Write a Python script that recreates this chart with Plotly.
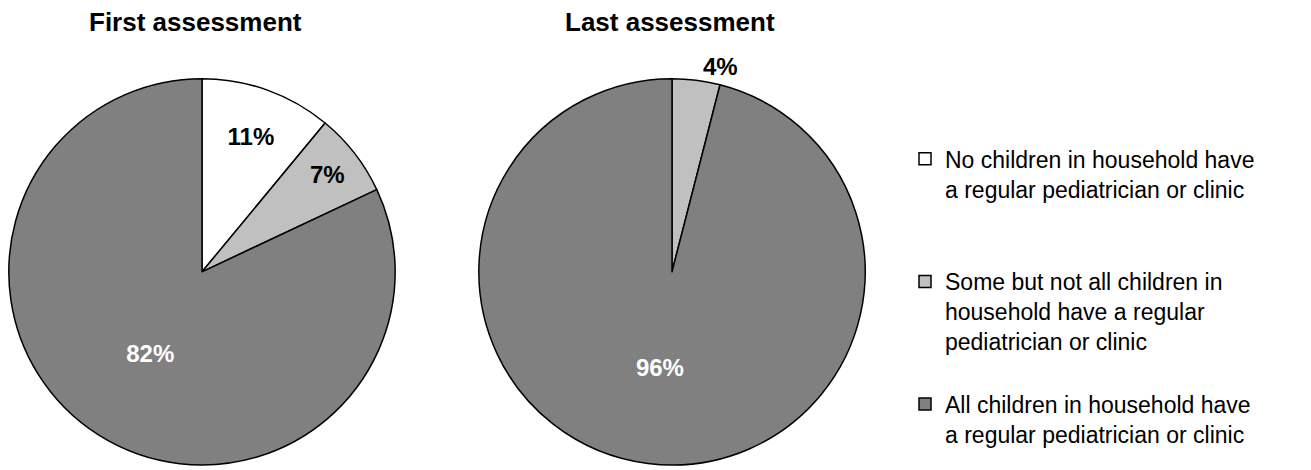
import plotly.graph_objects as go

categories = [
    "No children in household have<br>a regular pediatrician or clinic",
    "Some but not all children in<br>household have a regular<br>pediatrician or clinic",
    "All children in household have<br>a regular pediatrician or clinic",
]
legend_labels = [
    categories[0] + "<br> <br> ",
    categories[1] + "<br> ",
    categories[2],
]
first_values = [11, 7, 82]
last_values = [0, 4, 96]
titles = ["First assessment", "Last assessment"]
colors = ["#FFFFFF", "#C0C0C0", "#808080"]
FONT = "Liberation Sans, Arial, sans-serif"

W, H = 1311, 470

def dom(cx, cy, r):
    return dict(x=[(cx - r) / W, (cx + r) / W], y=[1 - (cy + r) / H, 1 - (cy - r) / H])

fig = go.Figure()
fig.add_trace(go.Pie(
    labels=legend_labels, values=first_values, sort=False, direction="clockwise", rotation=0,
    marker=dict(colors=colors, line=dict(color="black", width=1.5)),
    texttemplate="%{value}%", textposition="inside", insidetextorientation="horizontal",
    textfont=dict(family=FONT, size=24, color=["black", "black", "white"], weight="bold"),
    domain=dom(202, 273, 194), hoverinfo="label+value", showlegend=True,
))
fig.add_trace(go.Pie(
    labels=legend_labels, values=last_values, sort=False, direction="clockwise", rotation=0,
    marker=dict(colors=colors, line=dict(color="black", width=1.5)),
    texttemplate=["", "%{value}%", "%{value}%"], textposition=["none", "outside", "inside"],
    insidetextorientation="horizontal",
    textfont=dict(family=FONT, size=24, color=["black", "black", "white"], weight="bold"),
    domain=dom(672, 273, 194), hoverinfo="label+value", showlegend=False,
))

for i, t in enumerate(titles):
    fig.add_annotation(text="<b>" + t + "</b>", x=[195, 670][i] / W, y=1 - 22 / H,
                       xref="paper", yref="paper", showarrow=False,
                       font=dict(family=FONT, size=26, color="black"), xanchor="center", yanchor="middle")

fig.update_layout(
    width=W, height=H, margin=dict(l=0, r=0, t=0, b=0),
    paper_bgcolor="white", plot_bgcolor="white",
    font=dict(family=FONT, color="black"),
    legend=dict(x=905 / W, y=1 - 138 / H, xanchor="left", yanchor="top", valign="top",
                font=dict(family=FONT, size=23, color="black"), traceorder="normal",
                bgcolor="rgba(0,0,0,0)"),
)
fig.write_html("out.html")
